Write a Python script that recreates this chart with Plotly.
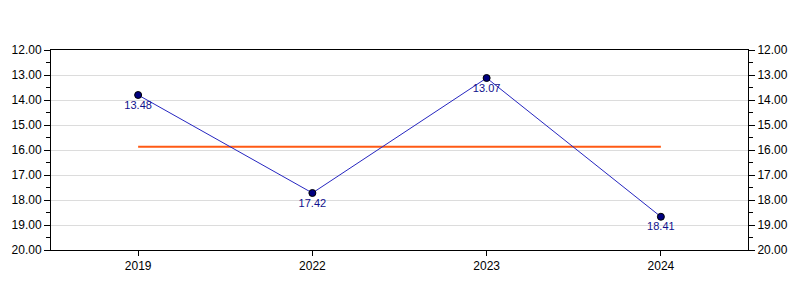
import plotly.graph_objects as go

categories = ["2019", "2022", "2023", "2024"]
plotted_values = [13.80, 17.72, 13.12, 18.67]
value_labels = ["13.48", "17.42", "13.07", "18.41"]
average_value = [15.87, 15.87]
y_tick_values = [12, 13, 14, 15, 16, 17, 18, 19, 20]
y_tick_labels = ["12.00", "13.00", "14.00", "15.00", "16.00", "17.00", "18.00", "19.00", "20.00"]

font_family = "Liberation Sans, Arial, sans-serif"

fig = go.Figure()

fig.add_trace(go.Scatter(
    x=[categories[0], categories[-1]], y=average_value,
    mode="lines", line=dict(color="#ff5a14", width=2),
    hoverinfo="skip", showlegend=False,
))

fig.add_trace(go.Scatter(
    x=categories, y=plotted_values,
    mode="lines+markers+text",
    line=dict(color="#2626c0", width=1),
    marker=dict(color="#000080", size=7, line=dict(color="#000000", width=1)),
    text=value_labels, textposition="bottom center",
    textfont=dict(family=font_family, size=11, color="#10108c"),
    showlegend=False,
))

# invisible trace for right-hand axis
fig.add_trace(go.Scatter(
    x=categories, y=plotted_values, yaxis="y2",
    mode="markers", marker=dict(opacity=0), hoverinfo="skip", showlegend=False,
))

yaxis_common = dict(
    range=[20, 12],
    tickvals=y_tick_values, ticktext=y_tick_labels,
    ticks="outside", ticklen=6, tickcolor="#000", tickwidth=1,
    showline=True, linecolor="#000", linewidth=1,
    tickfont=dict(family=font_family, size=12, color="#000"),
    minor=dict(dtick=0.5, tick0=12, ticks="outside", ticklen=4, tickcolor="#000", showgrid=False),
    zeroline=False,
)

fig.update_layout(
    width=800, height=300,
    margin=dict(l=50, r=50, t=50, b=50),
    paper_bgcolor="#fff", plot_bgcolor="#fff",
    xaxis=dict(
        type="category", categoryorder="array", categoryarray=categories,
        range=[-0.5, 3.5],
        ticks="outside", ticklen=5, tickcolor="#000",
        showline=True, linecolor="#000", linewidth=1, mirror=True,
        showgrid=False, zeroline=False,
        tickfont=dict(family=font_family, size=12, color="#000"),
    ),
    yaxis=dict(**yaxis_common, side="left", showgrid=True, gridcolor="#dcdcdc", gridwidth=1),
    yaxis2=dict(**yaxis_common, side="right", overlaying="y", showgrid=False),
)

fig.write_html("out.html")
